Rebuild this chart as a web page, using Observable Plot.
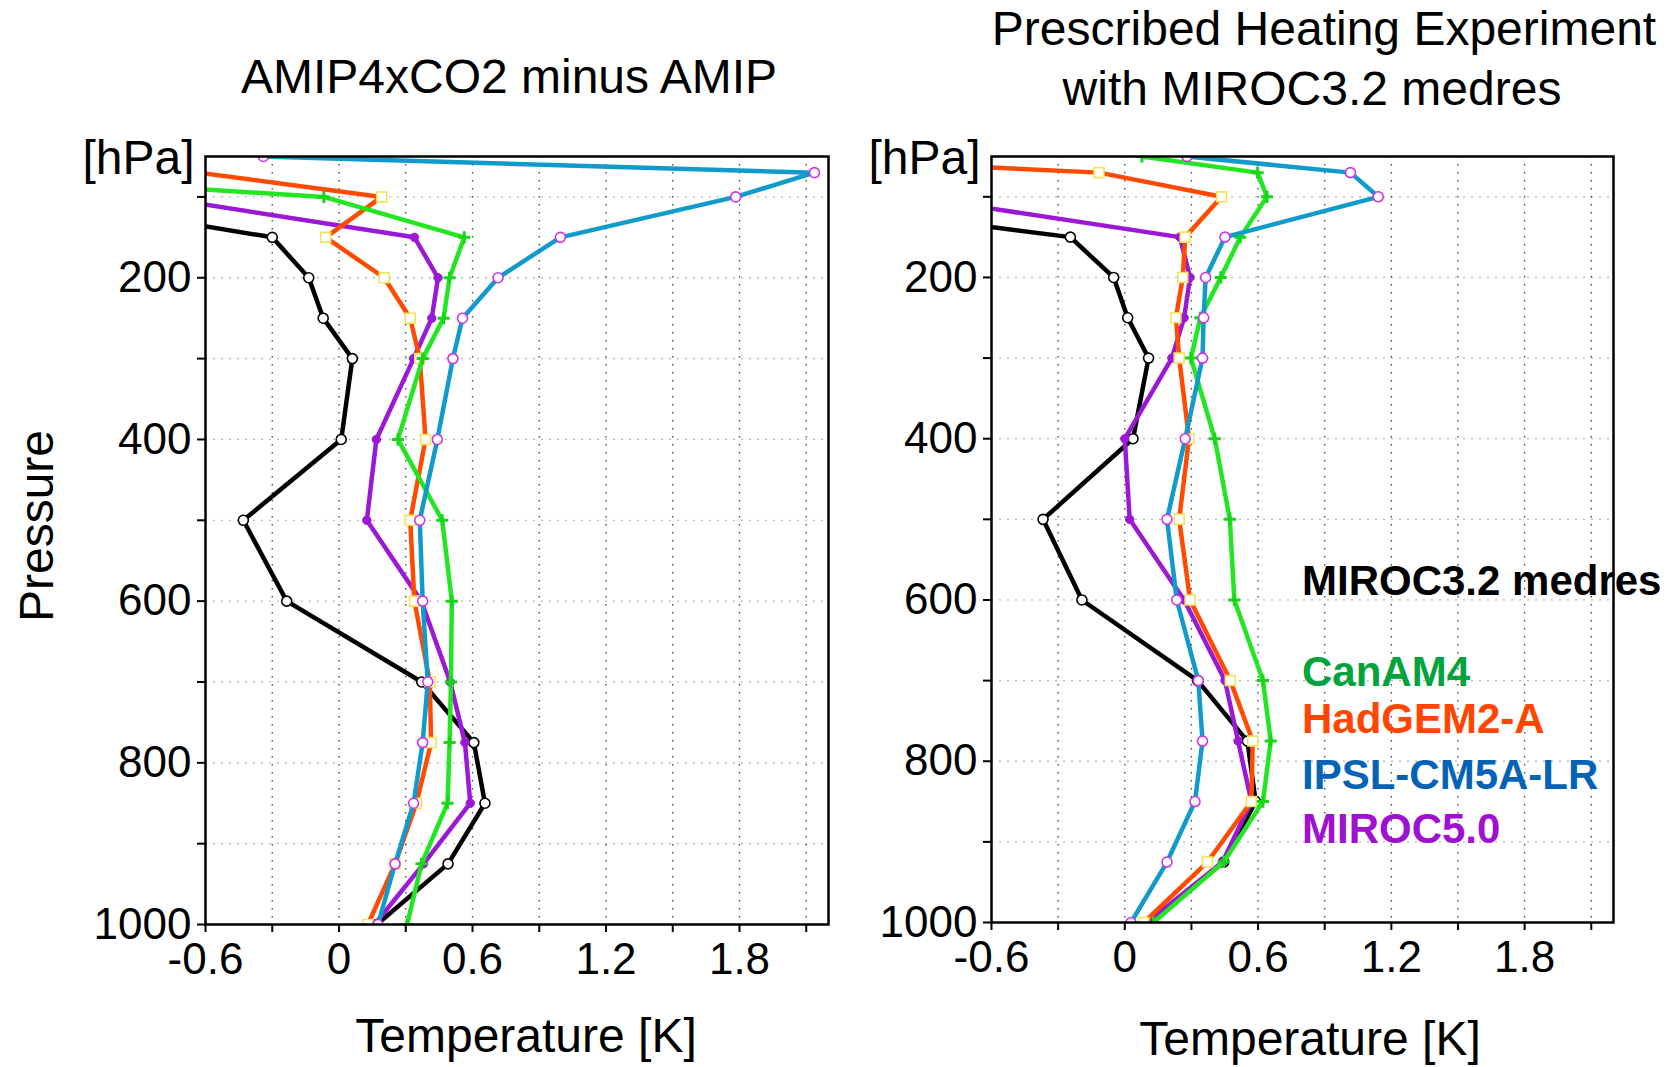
<!DOCTYPE html>
<html><head><meta charset="utf-8">
<script src="https://cdn.jsdelivr.net/npm/d3@7"></script>
<script src="https://cdn.jsdelivr.net/npm/@observablehq/plot@0.6"></script>
<style>
body{margin:0;background:#fff;}
#wrap{position:relative;width:1673px;height:1067px;overflow:hidden;font-family:"Liberation Sans",Arial,Helvetica,sans-serif;color:#000;background:#fff;}
.t{position:absolute;white-space:nowrap;line-height:1;}
.c{transform:translate(-50%,-50%);}
.l{transform:translateY(-50%);}
.panel{position:absolute;top:0;}
</style></head><body>
<div id="wrap">
  <div id="left" class="panel" style="left:0px"></div>
  <div id="right" class="panel" style="left:861px"></div>
  <div class="t c" style="left:509px;top:77px;font-size:48px">AMIP4xCO2 minus AMIP</div>
  <div class="t c" style="left:1324px;top:29px;font-size:48px">Prescribed Heating Experiment</div>
  <div class="t c" style="left:1312px;top:89px;font-size:48px">with MIROC3.2 medres</div>
  <div class="t" style="left:37px;top:526px;font-size:48px;transform:translate(-50%,-50%) rotate(-90deg)">Pressure</div>
  <div class="t c" style="left:526px;top:1036px;font-size:48px">Temperature [K]</div>
  <div class="t c" style="left:1310px;top:1039px;font-size:48px">Temperature [K]</div>
  <div id="legend"></div>
</div>
<script>
// ---- data ----
const levels = [50, 70, 100, 150, 200, 250, 300, 400, 500, 600, 700, 775, 850, 925, 1000];
const modelNames = ["MIROC3.2 medres", "CanAM4", "HadGEM2-A", "IPSL-CM5A-LR", "MIROC5.0"];

// AMIP4xCO2 minus AMIP (left)
const amipMIROC32 = [null, null, -1.4, -0.30, -0.136, -0.071, 0.06, 0.01, -0.43, -0.235, 0.372, 0.606, 0.656, 0.49, 0.17];
const amipCanAM4  = [null, -1.83, -0.068, 0.563, 0.497, 0.47, 0.376, 0.265, 0.464, 0.507, 0.503, 0.497, 0.488, 0.371, 0.306];
const amipHadGEM2 = [null, -0.63, 0.192, -0.06, 0.203, 0.32, 0.363, 0.389, 0.32, 0.339, 0.408, 0.414, 0.348, 0.252, 0.13];
const amipIPSL    = [-0.34, 2.137, 1.783, 0.995, 0.715, 0.555, 0.512, 0.442, 0.363, 0.376, 0.399, 0.376, 0.335, 0.252, 0.175];
const amipMIROC5  = [null, null, -0.82, 0.339, 0.445, 0.417, 0.335, 0.168, 0.125, 0.37, 0.50, 0.566, 0.59, 0.38, 0.16];

// Prescribed heating experiment with MIROC3.2 medres (right)
const heatMIROC32 = [null, null, -1.67, -0.245, -0.05, 0.013, 0.107, 0.037, -0.368, -0.193, 0.328, 0.552, 0.589, 0.445, 0.11];
const heatCanAM4  = [0.077, 0.598, 0.64, 0.52, 0.432, 0.34, 0.298, 0.405, 0.473, 0.493, 0.622, 0.657, 0.622, 0.445, 0.129];
const heatHadGEM2 = [-1.64, -0.116, 0.436, 0.272, 0.261, 0.23, 0.245, 0.289, 0.245, 0.294, 0.475, 0.576, 0.57, 0.372, 0.086];
const heatIPSL    = [0.28, 1.016, 1.141, 0.451, 0.364, 0.355, 0.35, 0.272, 0.19, 0.234, 0.331, 0.35, 0.316, 0.19, 0.028];
const heatMIROC5  = [null, null, -0.95, 0.248, 0.294, 0.267, 0.212, 0.0, 0.022, 0.267, 0.451, 0.51, 0.57, 0.44, 0.10];

const xDomain = [-0.6, 2.2];
const yDomain = [50, 1000];
const xTicks = [-0.6, -0.3, 0, 0.3, 0.6, 0.9, 1.2, 1.5, 1.8, 2.1];
const xTickLabels = ["-0.6", "", "0", "", "0.6", "", "1.2", "", "1.8", ""];
const yTicks = [100, 200, 300, 400, 500, 600, 700, 800, 900, 1000];
const yTickLabels = ["", "200", "", "400", "", "600", "", "800", "", "1000"];
const pressureUnit = "[hPa]";

// ---- styles ----
const styles = {
  "MIROC3.2 medres": {color: "#000000", symbol: "circle", r: 5, fill: "#ffffff", mstroke: "#000000", msw: 1.6, legend: "#000000"},
  "CanAM4":          {color: "#22e622", symbol: "plus", r: 4, fill: "none", mstroke: "#1ad41a", msw: 3, legend: "#00a33c"},
  "HadGEM2-A":       {color: "#ff4a00", symbol: "square", r: 5.6, fill: "#ffffff", mstroke: "#f2e35a", msw: 1.6, legend: "#ff4500"},
  "IPSL-CM5A-LR":    {color: "#109bcb", symbol: "circle", r: 5, fill: "#ffffff", mstroke: "#cc33ee", msw: 1.6, legend: "#0563b5"},
  "MIROC5.0":        {color: "#9b19d6", symbol: "circle", r: 4.2, fill: "#9b19d6", mstroke: "#9b19d6", msw: 1, legend: "#a010d0"}
};
const drawOrder = ["MIROC3.2 medres", "MIROC5.0", "HadGEM2-A", "CanAM4", "IPSL-CM5A-LR"];

function panel(seriesByModel, opts) {
  const marks = [
    Plot.ruleY(yTicks.slice(0, -1), {stroke: "#b8b8b8", strokeWidth: 1.3, strokeDasharray: "2,6"}),
    Plot.ruleX(xTicks.slice(1), {stroke: "#444", strokeWidth: 1.3, strokeDasharray: "1.5,6.5"}),
    Plot.axisX({ticks: xTicks, tickFormat: d => xTickLabels[xTicks.indexOf(d)], tickSize: 8, tickPadding: 10, fontSize: 44, strokeWidth: 2, label: null}),
    Plot.axisY({ticks: yTicks, tickFormat: d => yTickLabels[yTicks.indexOf(d)], tickSize: 8, tickPadding: 6, fontSize: 44, strokeWidth: 2, label: null})
  ];
  for (const name of drawOrder) {
    const s = styles[name];
    const rows = levels.map((p, i) => ({p, t: seriesByModel[name][i], model: name})).filter(d => d.t != null);
    marks.push(Plot.line(rows, {x: "t", y: "p", stroke: s.color, strokeWidth: 4.5, clip: true}));
    marks.push(Plot.dot(rows, {x: "t", y: "p", symbol: s.symbol, r: s.r, fill: s.fill, stroke: s.mstroke, strokeWidth: s.msw, clip: true}));
  }
  marks.push(Plot.frame({stroke: "#000", strokeWidth: 2.5}));
  marks.push(Plot.text([pressureUnit], {x: () => xDomain[0], y: () => yDomain[0], text: d => d, textAnchor: "end", dx: -11, dy: 2, fontSize: 48}));
  return Plot.plot({
    width: opts.width, height: opts.height,
    marginLeft: opts.ml, marginRight: 12, marginTop: 156, marginBottom: 60,
    x: {domain: xDomain},
    y: {domain: yDomain, reverse: true},
    style: {fontFamily: "Liberation Sans, Arial, Helvetica, sans-serif", fontSize: "44px", background: "transparent", overflow: "visible"},
    marks
  });
}

const leftSeries = {
  "MIROC3.2 medres": amipMIROC32, "CanAM4": amipCanAM4, "HadGEM2-A": amipHadGEM2,
  "IPSL-CM5A-LR": amipIPSL, "MIROC5.0": amipMIROC5
};
const rightSeries = {
  "MIROC3.2 medres": heatMIROC32, "CanAM4": heatCanAM4, "HadGEM2-A": heatHadGEM2,
  "IPSL-CM5A-LR": heatIPSL, "MIROC5.0": heatMIROC5
};

document.getElementById("left").appendChild(panel(leftSeries, {width: 840, height: 984, ml: 205}));
document.getElementById("right").appendChild(panel(rightSeries, {width: 764, height: 982, ml: 130}));

// legend (text only, coloured)
const legendY = [581, 672, 719, 775, 829];
const leg = document.getElementById("legend");
modelNames.forEach((name, i) => {
  const d = document.createElement("div");
  d.className = "t l";
  d.style.left = "1302px";
  d.style.top = legendY[i] + "px";
  d.style.fontSize = "42px";
  d.style.fontWeight = "bold";
  d.style.color = styles[name].legend;
  d.textContent = name;
  leg.appendChild(d);
});
</script>
</body></html>
